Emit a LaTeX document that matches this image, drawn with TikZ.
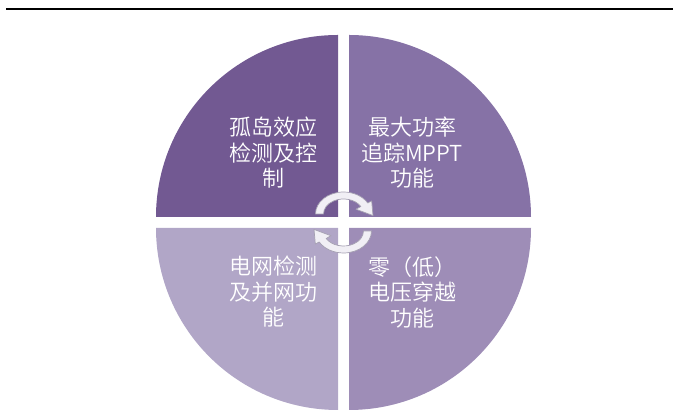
\documentclass[tikz,border=0pt]{standalone}
\usepackage{fontspec}
\IfFontExistsTF{Noto Sans CJK SC DemiLight}
	{\newfontfamily\cjk{Noto Sans CJK SC DemiLight}}
	{\newfontfamily\cjk{Noto Sans CJK SC}}
\usetikzlibrary{positioning}
\definecolor{quadA}{RGB}{114,89,146}
\definecolor{quadB}{RGB}{134,114,166}
\definecolor{quadC}{RGB}{177,166,199}
\definecolor{quadD}{RGB}{158,141,183}
\definecolor{turnfill}{RGB}{241,239,245}
\definecolor{turnline}{RGB}{165,160,178}
\tikzset{%
    quarter/.style={draw=none},
    caption/.style={text=white, align=center, inner sep=0pt},
    turn/.style={fill=turnfill, draw=turnline, line width=0.7pt, line join=round}
}

\begin{document}
\begin{tikzpicture}[x=1pt,y=1pt]
		\tikzstyle{every node}=[font=\cjk\fontsize{22}{25.5}\selectfont]
		\useasboundingbox (0,0) rectangle (673,419);

		\draw[line width=2.2pt] (6,410) -- (673,410);

		% four quarters
		\fill[quarter,quadA] (338,202) -- (156,202) arc[start angle=180,end angle=90,radius=182] -- cycle;
		\fill[quarter,quadB] (349,202) -- (349,384) arc[start angle=90,end angle=0,radius=182] -- cycle;
		\fill[quarter,quadC] (338,191) -- (156,191) arc[start angle=180,end angle=270,radius=182] -- cycle;
		\fill[quarter,quadD] (349,191) -- (531,191) arc[start angle=0,end angle=-90,radius=182] -- cycle;

		\node[caption] (island)  at (273,266) {孤岛效应\\检测及控\\制};
		\node[caption] (mppt)    at (412,266) {最大功率\\追踪MPPT\\功能};
		\node[caption] (grid)    at (273,127) {电网检测\\及并网功\\能};
		\node[caption] (through) at (412,127) {零（低）\\电压穿越\\功能};

		% turning arrows
		\foreach \cy/\rot in {205/0,188/180}{
			\begin{scope}[shift={(343.5,\cy)},rotate=\rot]
				\draw[turn] (180:28pt and 22pt) arc[start angle=180,end angle=30,x radius=28pt,y radius=22pt]
					-- (30:32.5pt and 26pt) -- (29.5pt,-1.6pt) -- (30:14.5pt and 9.5pt)
					-- (30:20pt and 15pt) arc[start angle=30,end angle=180,x radius=20pt,y radius=15pt] -- cycle;
			\end{scope}
		}
	\end{tikzpicture}
\end{document}
